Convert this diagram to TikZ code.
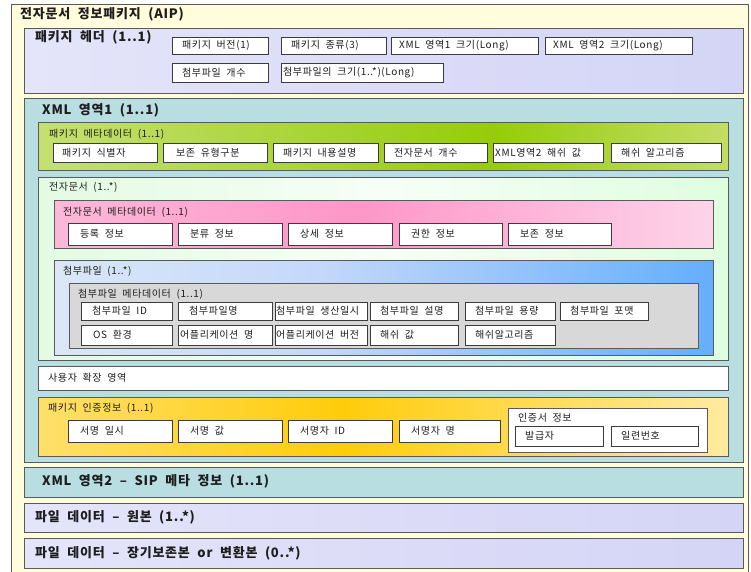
\documentclass[tikz,border=0pt]{standalone}
\usepackage{fontspec}
\setmainfont{Noto Sans CJK KR}[LetterSpace=6,WordSpace=2]
\definecolor{aipfill}{RGB}{255,253,220}
\definecolor{lavA}{RGB}{236,236,252}
\definecolor{lavB}{RGB}{204,204,244}
\definecolor{teal}{RGB}{184,222,226}
\definecolor{pmA}{RGB}{232,240,192}
\definecolor{pmB}{RGB}{150,204,10}
\definecolor{pmC}{RGB}{234,238,178}
\definecolor{edA}{RGB}{208,246,208}
\definecolor{edB}{RGB}{246,255,246}
\definecolor{edC}{RGB}{200,252,200}
\definecolor{emA}{RGB}{248,222,236}
\definecolor{emB}{RGB}{255,150,200}
\definecolor{emC}{RGB}{252,242,250}
\definecolor{atA}{RGB}{244,250,242}
\definecolor{atB}{RGB}{196,216,250}
\definecolor{atC}{RGB}{20,140,255}
\definecolor{amfill}{RGB}{216,216,216}
\definecolor{auA}{RGB}{255,246,214}
\definecolor{auB}{RGB}{255,204,10}
\definecolor{auC}{RGB}{255,246,214}
\definecolor{edgegray}{RGB}{90,90,90}
\definecolor{celledge}{RGB}{60,60,60}
\definecolor{txt}{RGB}{30,30,30}
\pgfdeclarehorizontalshading{lavshade}{100bp}{color(0bp)=(lavA); color(100bp)=(lavB)}
\pgfdeclarehorizontalshading{pmshade}{100bp}{color(0bp)=(pmA); color(58bp)=(pmB); color(90bp)=(pmC); color(100bp)=(pmC)}
\pgfdeclarehorizontalshading{edshade}{100bp}{color(0bp)=(edA); color(50bp)=(edB); color(100bp)=(edC)}
\pgfdeclarehorizontalshading{emshade}{100bp}{color(0bp)=(emA); color(48bp)=(emB); color(88bp)=(emC); color(100bp)=(emC)}
\pgfdeclarehorizontalshading{atshade}{100bp}{color(0bp)=(atA); color(45bp)=(atB); color(100bp)=(atC)}
\pgfdeclarehorizontalshading{aushade}{100bp}{color(0bp)=(auA); color(47bp)=(auB); color(85bp)=(auC); color(100bp)=(auC)}
\newcommand\areabox[6]{%
  \node[areabase,#6,minimum width={(#4-#2)*1pt},minimum height={(#5-#3)*1pt},anchor=north west] (#1) at (#2,#3) {};}
\newcommand\cellbox[7]{%
  \node[cellbase,minimum width={(#4-#2)*1pt},minimum height={(#5-#3)*1pt},anchor=north west] (#1) at (#2,#3) {};
  \node[celltext,anchor=west] (#1-t) at ([xshift=#6pt]#1.west) {#7};}
\begin{document}
\begin{tikzpicture}[x=1pt,y=-1pt,
  areabase/.style={draw=edgegray,line width=0.9pt,inner sep=0pt,outer sep=0pt,rectangle},
  cellbase/.style={draw=celledge,line width=0.9pt,fill=white,inner sep=0pt,outer sep=0pt,rectangle},
  celltext/.style={inner sep=0pt,text=txt,font=\fontsize{10}{12}\selectfont},
  arealabel/.style={inner sep=0pt,anchor=west,text=txt,font=\fontsize{10}{12}\selectfont},
  bigtitle/.style={inner sep=0pt,anchor=west,text=txt,font=\bfseries\fontsize{13}{15}\selectfont},
  midtitle/.style={inner sep=0pt,anchor=west,text=txt,font=\bfseries\fontsize{13}{15}\selectfont}]
\useasboundingbox (0,0) rectangle (751,571);
\fill[white] (0,0) rectangle (751,571);
% outer AIP
\areabox{aip}{11}{4}{748}{580}{fill=aipfill}
\node[bigtitle] (aip-t) at (20,14) {전자문서 정보패키지 (AIP)};
% header
\areabox{hdr}{24}{28}{743}{93}{shading=lavshade}
\node[midtitle] (hdr-t) at (35,37) {패키지 헤더 (1..1)};
\cellbox{hv}{172}{37}{268}{54}{10}{패키지 버전(1)}
\cellbox{hk}{281}{37}{386}{54}{10}{패키지 종류(3)}
\cellbox{hx1}{391}{37}{538}{54}{8}{XML 영역1 크기(Long)}
\cellbox{hx2}{545}{37}{692}{54}{8}{XML 영역2 크기(Long)}
\cellbox{hac}{172}{63}{268}{82}{10}{첨부파일 개수}
\cellbox{has}{281}{63}{443}{82}{2}{첨부파일의 크기(1..*)(Long)}
% XML area 1
\areabox{xml1}{24}{98}{743}{462}{fill=teal}
\node[bigtitle] (xml1-t) at (42,110) {XML 영역1 (1..1)};
% package metadata
\areabox{pm}{38}{122}{728}{170}{shading=pmshade}
\node[arealabel] (pm-t) at (49,134) {패키지 메타데이터 (1..1)};
\cellbox{pid}{53}{143}{157}{162}{9}{패키지 식별자}
\cellbox{pty}{163}{143}{267}{162}{13}{보존 유형구분}
\cellbox{pds}{273}{143}{378}{162}{10}{패키지 내용설명}
\cellbox{pcn}{384}{143}{487}{162}{10}{전자문서 개수}
\cellbox{phv}{493}{143}{603}{162}{2}{XML영역2 해쉬 값}
\cellbox{pha}{611}{143}{721}{162}{10}{해쉬 알고리즘}
% electronic document
\areabox{ed}{38}{177}{728}{360}{shading=edshade}
\node[arealabel] (ed-t) at (49,187) {전자문서 (1..*)};
\areabox{em}{54}{200}{713}{248}{shading=emshade}
\node[arealabel] (em-t) at (63,212) {전자문서 메타데이터 (1..1)};
\cellbox{ereg}{68}{223}{172}{245}{12}{등록 정보}
\cellbox{ecls}{178}{223}{282}{245}{12}{분류 정보}
\cellbox{edet}{288}{223}{392}{245}{12}{상세 정보}
\cellbox{eauth}{399}{223}{502}{245}{12}{권한 정보}
\cellbox{epres}{508}{223}{611}{245}{12}{보존 정보}
% attachments
\areabox{at}{54}{260}{713}{355}{shading=atshade}
\node[arealabel] (at-t) at (63,271) {첨부파일 (1..*)};
\areabox{am}{69}{283}{698}{348}{fill=amfill}
\node[arealabel] (am-t) at (78,294) {첨부파일 메타데이터 (1..1)};
\cellbox{aid}{81}{302}{172}{320}{11}{첨부파일 ID}
\cellbox{anm}{178}{302}{272}{320}{11}{첨부파일명}
\cellbox{adt}{275}{302}{367}{320}{1}{첨부파일 생산일시}
\cellbox{ads}{370}{302}{458}{320}{10}{첨부파일 설명}
\cellbox{asz}{465}{302}{555}{320}{10}{첨부파일 용량}
\cellbox{afm}{560}{302}{648}{320}{10}{첨부파일 포맷}
\cellbox{aos}{81}{325}{172}{345}{12}{OS 환경}
\cellbox{aap}{178}{325}{272}{345}{2}{어플리케이션 명}
\cellbox{aav}{275}{325}{367}{345}{1}{어플리케이션 버전}
\cellbox{ahv}{370}{325}{458}{345}{10}{해쉬 값}
\cellbox{aha}{465}{325}{555}{345}{10}{해쉬알고리즘}
% user extension
\areabox{ux}{38}{366}{728}{390}{fill=white}
\node[arealabel] (ux-t) at (48,378) {사용자 확장 영역};
% package authentication
\areabox{au}{38}{397}{728}{456}{shading=aushade}
\node[arealabel] (au-t) at (48,408) {패키지 인증정보 (1..1)};
\cellbox{sdt}{68}{420}{172}{442}{12}{서명 일시}
\cellbox{svl}{178}{420}{282}{442}{12}{서명 값}
\cellbox{sid}{288}{420}{392}{442}{12}{서명자 ID}
\cellbox{snm}{399}{420}{500}{442}{12}{서명자 명}
\areabox{cert}{508}{408}{707}{452}{fill=white}
\node[arealabel] (cert-t) at (518,418) {인증서 정보};
\cellbox{iss}{515}{426}{603}{446}{10}{발급자}
\cellbox{ser}{611}{426}{698}{446}{10}{일련번호}
% XML area 2
\areabox{xml2}{24}{467}{743}{497}{fill=teal}
\node[bigtitle] (xml2-t) at (42,481) {XML 영역2 – SIP 메타 정보 (1..1)};
% file data
\areabox{fd1}{24}{503}{743}{532}{shading=lavshade}
\node[midtitle] (fd1-t) at (35,517) {파일 데이터 – 원본 (1..*)};
\areabox{fd2}{24}{538}{743}{568}{shading=lavshade}
\node[midtitle] (fd2-t) at (35,553) {파일 데이터 – 장기보존본 or 변환본 (0..*)};
\end{tikzpicture}
\end{document}
